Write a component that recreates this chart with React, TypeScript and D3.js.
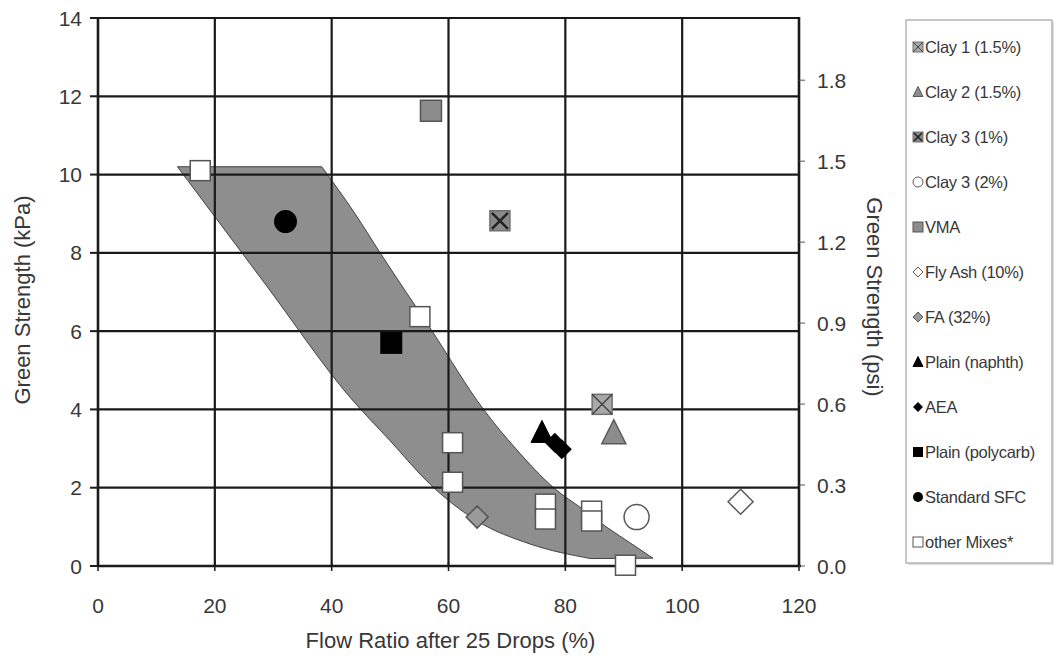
import React from 'react';
import * as d3 from 'd3';

// ---- data ----
const xTicks = [0, 20, 40, 60, 80, 100, 120];
const yTicks = [0, 2, 4, 6, 8, 10, 12, 14];
const psiTicks = [0, 0.3, 0.6, 0.9, 1.2, 1.5, 1.8];
const KPA_PER_PSI = 6.895;

const clay1Points = [[86.3, 4.13]];
const clay2Points = [[88.3, 3.4]];
const clay3OnePoints = [[68.8, 8.82]];
const clay3TwoPoints = [[92.2, 1.25]];
const vmaPoints = [[57.0, 11.63]];
const flyAsh10Points = [[110.0, 1.64]];
const fa32Points = [[64.9, 1.25]];
const plainNaphthPoints = [[76.0, 3.41]];
const aeaPoints = [[78.2, 3.15], [79.4, 2.98]];
const plainPolycarbPoints = [[50.2, 5.7]];
const standardSfcPoints = [[32.1, 8.8]];
const otherMixesPoints = [
  [17.5, 10.1], [55.1, 6.37], [60.7, 3.15], [60.7, 2.14],
  [76.6, 1.58], [76.6, 1.2], [84.5, 1.4], [84.5, 1.15], [90.3, 0.02],
];

// band (shaded envelope)
const bandTop = [[13.6, 10.2], [38.3, 10.2]];
const bandRight = [
  [38.3, 10.2], [44, 9.0], [48.3, 8.0], [57.2, 6.0],
  [66, 4.0], [71.5, 3.0], [78, 2.0], [83, 1.45], [87, 1.0],
  [91, 0.6], [95, 0.2],
];
const bandBottom = [[95, 0.2], [84.3, 0.19]];
const bandLeft = [
  [84.3, 0.19], [74, 0.56], [64.9, 1.15], [56.9, 2.08], [50, 3.2],
  [43.2, 4.3], [28.4, 7.25], [13.6, 10.2],
];

const seriesNames = [
  'Clay 1 (1.5%)', 'Clay 2 (1.5%)', 'Clay 3 (1%)', 'Clay 3 (2%)', 'VMA',
  'Fly Ash (10%)', 'FA (32%)', 'Plain (naphth)', 'AEA', 'Plain (polycarb)',
  'Standard SFC', 'other Mixes*',
];
const seriesKinds = [
  'squareX', 'triangleGray', 'squareXdark', 'circleOpen', 'squareGray',
  'diamondOpen', 'diamondGray', 'triangleBlack', 'diamondBlack', 'squareBlack',
  'circleBlack', 'squareWhite',
];
const seriesData = [
  clay1Points, clay2Points, clay3OnePoints, clay3TwoPoints, vmaPoints,
  flyAsh10Points, fa32Points, plainNaphthPoints, aeaPoints, plainPolycarbPoints,
  standardSfcPoints, otherMixesPoints,
];

// ---- layout ----
const W = 1054, H = 661;
const X0 = 98, X1 = 799, Y0 = 566, Y1 = 18;
const FONT = '"Liberation Sans", Arial, sans-serif';
const TXT = '#383838';

const sizes: Record<string, number> = {
  squareX: 20, triangleGray: 24, squareXdark: 20, circleOpen: 25, squareGray: 21,
  diamondOpen: 25, diamondGray: 22, triangleBlack: 22, diamondBlack: 20,
  squareBlack: 22, circleBlack: 23, squareWhite: 20,
};

function Marker({ kind, x, y, s }: { kind: string; x: number; y: number; s: number }) {
  const h = s / 2;
  const tri = `M${x},${y - s * 0.55}L${x + h},${y + s * 0.45}L${x - h},${y + s * 0.45}Z`;
  const dia = `M${x},${y - h}L${x + h},${y}L${x},${y + h}L${x - h},${y}Z`;
  const sw = s < 12 ? 1 : 1.5;
  switch (kind) {
    case 'squareX':
      return (
        <g>
          <rect x={x - h} y={y - h} width={s} height={s} fill="#a8a8a8" stroke="#707070" strokeWidth={sw} />
          <path d={`M${x - h},${y - h}L${x + h},${y + h}M${x + h},${y - h}L${x - h},${y + h}`} stroke="#444" strokeWidth={sw} />
        </g>
      );
    case 'squareXdark':
      return (
        <g>
          <rect x={x - h} y={y - h} width={s} height={s} fill="#8a8a8a" stroke="#707070" strokeWidth={sw} />
          <path d={`M${x - h * 0.8},${y - h * 0.8}L${x + h * 0.8},${y + h * 0.8}M${x + h * 0.8},${y - h * 0.8}L${x - h * 0.8},${y + h * 0.8}`} stroke="#222" strokeWidth={s < 12 ? 1.6 : 2.5} />
        </g>
      );
    case 'triangleGray':
      return <path d={tri} fill="#8c8c8c" stroke="#5a5a5a" strokeWidth={sw} />;
    case 'triangleBlack':
      return <path d={tri} fill="#000" stroke="#000" strokeWidth={1} />;
    case 'circleOpen':
      return <circle cx={x} cy={y} r={h} fill="#fff" stroke="#5a5a5a" strokeWidth={sw} />;
    case 'circleBlack':
      return <circle cx={x} cy={y} r={h} fill="#000" />;
    case 'squareGray':
      return <rect x={x - h} y={y - h} width={s} height={s} fill="#8c8c8c" stroke="#555" strokeWidth={sw} />;
    case 'squareBlack':
      return <rect x={x - h} y={y - h} width={s} height={s} fill="#000" />;
    case 'squareWhite':
      return <rect x={x - h} y={y - h} width={s} height={s} fill="#fff" stroke="#555" strokeWidth={sw} />;
    case 'diamondOpen':
      return <path d={dia} fill="#fff" stroke="#5a5a5a" strokeWidth={sw} />;
    case 'diamondGray':
      return <path d={dia} fill="#9a9a9a" stroke="#555" strokeWidth={sw} />;
    case 'diamondBlack':
      return <path d={dia} fill="#000" />;
    default:
      return null;
  }
}

export default function App() {
  const x = d3.scaleLinear().domain([0, 120]).range([X0, X1]);
  const y = d3.scaleLinear().domain([0, 14]).range([Y0, Y1]);
  const yPsi = d3.scaleLinear().domain([0, 14 / KPA_PER_PSI]).range([Y0, Y1]);

  const lin = d3.line<number[]>().x((d) => x(d[0])).y((d) => y(d[1]));
  const crv = d3.line<number[]>().x((d) => x(d[0])).y((d) => y(d[1])).curve(d3.curveMonotoneX);
  const bandPath =
    (lin(bandTop) || '') +
    (crv(bandRight) || '').replace(/^M/, 'L') +
    (lin(bandBottom) || '').replace(/^M/, 'L') +
    (crv(bandLeft) || '').replace(/^M/, 'L') + 'Z';

  const legendX = 906, legendY = 20, legendW = 146, legendH = 543;

  return (
    <svg width={W} height={H} style={{ position: 'absolute', left: 0, top: 0, background: '#fff' }} fontFamily={FONT}>
      <rect x={0} y={0} width={W} height={H} fill="#fff" />
      {/* band */}
      <path d={bandPath} fill="#8e8e8e" stroke="#333" strokeWidth={0.9} />

      {/* grid */}
      {yTicks.filter((t) => t > 0).map((t) => (
        <line key={'gy' + t} x1={X0} x2={X1} y1={y(t)} y2={y(t)} stroke="#1a1a1a" strokeWidth={2.2} />
      ))}
      {xTicks.filter((t) => t > 0 && t < 120).map((t) => (
        <line key={'gx' + t} x1={x(t)} x2={x(t)} y1={Y1} y2={Y0} stroke="#1a1a1a" strokeWidth={2.2} />
      ))}

      {/* axes */}
      <line x1={X0} x2={X0} y1={Y1 - 1} y2={Y0 + 1} stroke="#1a1a1a" strokeWidth={2.6} />
      <line x1={X1} x2={X1} y1={Y1 - 1} y2={Y0 + 1} stroke="#1a1a1a" strokeWidth={2.6} />
      <line x1={X0} x2={X1 + 2} y1={Y0} y2={Y0} stroke="#1a1a1a" strokeWidth={2.6} />

      {yTicks.map((t) => (
        <g key={'ly' + t}>
          <line x1={X0 - 8} x2={X0} y1={y(t)} y2={y(t)} stroke="#1a1a1a" strokeWidth={2} />
          <text x={X0 - 16} y={y(t)} dy="0.36em" textAnchor="end" fontSize={21} fill={TXT}>{t}</text>
        </g>
      ))}
      {xTicks.map((t) => (
        <g key={'lx' + t}>
          <line x1={x(t)} x2={x(t)} y1={Y0 - 4} y2={Y0 + 5} stroke="#1a1a1a" strokeWidth={1.5} />
          <text x={x(t)} y={613} textAnchor="middle" fontSize={21} fill={TXT}>{t}</text>
        </g>
      ))}
      {psiTicks.map((t) => (
        <g key={'lp' + t}>
          <line x1={X1} x2={X1 + 6} y1={yPsi(t)} y2={yPsi(t)} stroke="#555" strokeWidth={1} />
          <text x={X1 + 18} y={yPsi(t)} dy="0.36em" textAnchor="start" fontSize={21} fill={TXT}>{t.toFixed(1)}</text>
        </g>
      ))}

      {/* titles */}
      <text x={(X0 + X1) / 2 + 2} y={648} textAnchor="middle" fontSize={22} fill={TXT}>Flow Ratio after 25 Drops (%)</text>
      <text transform={`translate(30,${(Y0 + Y1) / 2 + 8}) rotate(-90)`} textAnchor="middle" fontSize={22} fill={TXT}>Green Strength (kPa)</text>
      <text transform={`translate(867,${297}) rotate(90)`} textAnchor="middle" fontSize={22} fill={TXT}>Green Strength (psi)</text>

      {/* points */}
      {seriesData.map((pts, i) =>
        pts.map((p, j) => (
          <Marker key={`m${i}-${j}`} kind={seriesKinds[i]} x={x(p[0])} y={y(p[1])} s={sizes[seriesKinds[i]]} />
        ))
      )}

      {/* legend */}
      <rect x={legendX + 2} y={legendY + 2} width={legendW} height={legendH} fill="#ddd" />
      <rect x={legendX} y={legendY} width={legendW} height={legendH} fill="#fff" stroke="#b5b5b5" strokeWidth={1.5} />
      {seriesNames.map((n, i) => {
        const ly = 47 + i * 45;
        return (
          <g key={'lg' + i}>
            <Marker kind={seriesKinds[i]} x={918} y={ly} s={10} />
            <text x={925} y={ly} dy="0.35em" fontSize={16.5} fill={TXT} letterSpacing={-0.3}>{n}</text>
          </g>
        );
      })}
    </svg>
  );
}
